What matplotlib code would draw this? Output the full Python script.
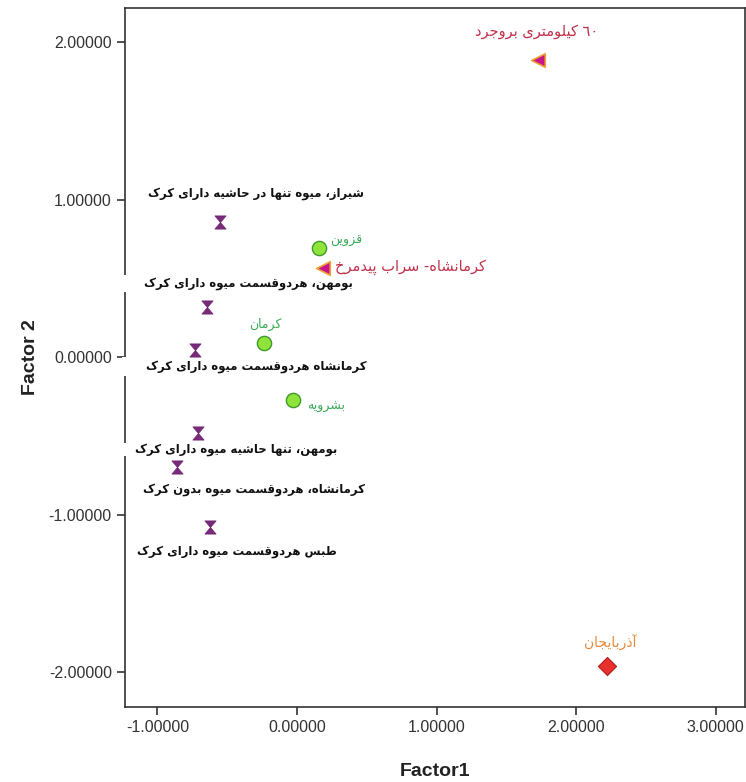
import matplotlib
matplotlib.use("Agg")
import matplotlib.pyplot as plt
from matplotlib.path import Path

# points (Factor1, Factor2)
names = ["٦٠ کیلومتری بروجرد", "شیراز، میوه تنها در حاشیه دارای کرک", "قزوین",
         "کرمانشاه- سراب پیدمرخ", "بومهن، هردوقسمت میوه دارای کرک", "کرمان",
         "کرمانشاه هردوقسمت میوه دارای کرک", "بشرویه", "بومهن، تنها حاشیه میوه دارای کرک",
         "کرمانشاه، هردوقسمت میوه بدون کرک", "طبس هردوقسمت میوه دارای کرک", "آذربایجان"]
factor1 = [1.726, -0.552, 0.157, 0.186, -0.645, -0.236, -0.731, -0.029, -0.709, -0.859, -0.623, 2.221]
factor2 = [1.886, 0.857, 0.692, 0.565, 0.317, 0.089, 0.044, -0.273, -0.483, -0.699, -1.079, -1.962]
groups = ["tri", "hg", "circ", "tri", "hg", "circ", "hg", "circ", "hg", "hg", "hg", "dia"]

xticks = [-1, 0, 1, 2, 3]
yticks = [-2, -1, 0, 1, 2]

# label offsets in pixels and white box padding (h, v) like the spss labels
offs = [(-1, 28), (36, 29), (27, 8), (87, 1), (41, 24), (1, 19),
        (61, -16), (33, -6), (38, -16), (77, -22), (27, -25), (3, 23)]
pads = [(2, 1), (4, 1), (2, 1), (2, 1), (20, 2), (2, 1),
        (24, 3), (2, 1), (14, 0), (4, 1), (4, 1), (2, 1)]

# --- simple persian shaping (matplotlib has no arabic layout) ---
forms = {
    'ا': (0xFE8D, 0xFE8E), 'آ': (0xFE81, 0xFE82), 'د': (0xFEA9, 0xFEAA), 'ذ': (0xFEAB, 0xFEAC),
    'ر': (0xFEAD, 0xFEAE), 'ز': (0xFEAF, 0xFEB0), 'و': (0xFEED, 0xFEEE), 'ژ': (0xFB8A, 0xFB8B),
    'ب': (0xFE8F, 0xFE90, 0xFE91, 0xFE92), 'ت': (0xFE95, 0xFE96, 0xFE97, 0xFE98),
    'ج': (0xFE9D, 0xFE9E, 0xFE9F, 0xFEA0), 'ح': (0xFEA1, 0xFEA2, 0xFEA3, 0xFEA4),
    'خ': (0xFEA5, 0xFEA6, 0xFEA7, 0xFEA8), 'س': (0xFEB1, 0xFEB2, 0xFEB3, 0xFEB4),
    'ش': (0xFEB5, 0xFEB6, 0xFEB7, 0xFEB8), 'ط': (0xFEC1, 0xFEC2, 0xFEC3, 0xFEC4),
    'ق': (0xFED5, 0xFED6, 0xFED7, 0xFED8), 'ل': (0xFEDD, 0xFEDE, 0xFEDF, 0xFEE0),
    'م': (0xFEE1, 0xFEE2, 0xFEE3, 0xFEE4), 'ن': (0xFEE5, 0xFEE6, 0xFEE7, 0xFEE8),
    'ه': (0xFEE9, 0xFEEA, 0xFEEB, 0xFEEC), 'ی': (0xFBFC, 0xFBFD, 0xFBFE, 0xFBFF),
    'ک': (0xFB8E, 0xFB8F, 0xFB90, 0xFB91), 'پ': (0xFB56, 0xFB57, 0xFB58, 0xFB59),
}


def shape(s):
    out = []
    for i, c in enumerate(s):
        if c not in forms:
            out.append(c)
            continue
        p = s[i - 1] if i > 0 else ''
        n = s[i + 1] if i + 1 < len(s) else ''
        prev_j = p in forms and len(forms[p]) == 4
        next_j = len(forms[c]) == 4 and n in forms
        f = forms[c]
        if prev_j and next_j:
            out.append(chr(f[3]))
        elif prev_j:
            out.append(chr(f[1]))
        elif next_j:
            out.append(chr(f[2]))
        else:
            out.append(chr(f[0]))
    vis = ''.join(out)[::-1]
    # keep digit runs left to right
    res, run = '', ''
    for c in vis:
        if c.isdigit():
            run += c
        else:
            res += run[::-1] + c
            run = ''
    return res + run[::-1]


def make_box(hp, vp):
    def box(x0, y0, w, h, mutation_size):
        return Path([(x0 - hp, y0 - vp), (x0 + w + hp, y0 - vp), (x0 + w + hp, y0 + h + vp),
                     (x0 - hp, y0 + h + vp), (x0 - hp, y0 - vp)], closed=True)
    return box


hourglass = Path([(-0.85, 1), (0.85, 1), (-0.85, -1), (0.85, -1), (-0.85, 1)],
                 [Path.MOVETO, Path.LINETO, Path.LINETO, Path.LINETO, Path.CLOSEPOLY])

styles = {
    "hg": dict(marker=hourglass, s=90, c="#7a2a7a", edgecolors="#6a1f6a", linewidths=0.5),
    "circ": dict(marker="o", s=105, c="#8fe43c", edgecolors="#3f9a2a", linewidths=1.0),
    "tri": dict(marker="<", s=95, c="#c8148c", edgecolors="#f0a030", linewidths=1.2),
    "dia": dict(marker="D", s=85, c="#e8302c", edgecolors="#b02020", linewidths=0.8),
}
txt_col = {"hg": "#111111", "circ": "#3aaa5a", "tri": "#c0304a", "dia": "#e8893a"}
txt_size = {"hg": 8.4, "circ": 9, "tri": 10.5, "dia": 10}

fig = plt.figure(figsize=(7.46, 7.82), dpi=100)
ax = fig.add_axes([125 / 746, 75 / 782, 620 / 746, 699 / 782])

for i in range(len(names)):
    g = groups[i]
    ax.scatter(factor1[i], factor2[i], zorder=5, **styles[g])
    ax.annotate(shape(names[i]), (factor1[i], factor2[i]), xytext=offs[i],
                textcoords="offset pixels", ha="center", va="center",
                fontsize=txt_size[g], fontweight="bold" if g == "hg" else "normal",
                color=txt_col[g], family="DejaVu Sans",
                zorder=3 if g == "hg" else 3.5, annotation_clip=False,
                bbox=dict(boxstyle=make_box(*pads[i]), facecolor="white", edgecolor="none"))

ax.set_xlim(-1.232, 3.209)
ax.set_ylim(-2.222, 2.216)
ax.set_xticks(xticks)
ax.set_yticks(yticks)
ax.set_xticklabels([f"{v:.5f}" for v in xticks])
ax.set_yticklabels([f"{v:.5f}" for v in yticks])
ax.tick_params(direction="out", length=6, width=1.2, color="#333333",
               labelsize=11.5, labelcolor="#333333")
for t in ax.get_xticklabels() + ax.get_yticklabels():
    t.set_family("Liberation Sans")
for sp in ax.spines.values():
    sp.set_color("#333333")
    sp.set_linewidth(1.2)

ax.set_xlabel("Factor1", fontsize=14, fontweight="bold", family="Liberation Sans",
              color="#222222", labelpad=20)
ax.set_ylabel("Factor 2", fontsize=14, fontweight="bold", family="Liberation Sans",
              color="#222222", labelpad=7)

fig.savefig("out.png", dpi=100)
